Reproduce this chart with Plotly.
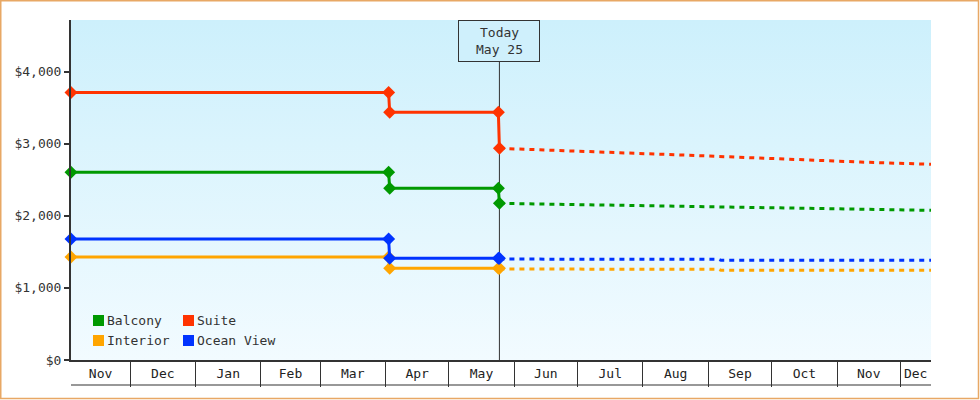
import base64
import pandas as pd
import plotly.graph_objects as go

# ---------------- data ----------------
series_names = ["Balcony", "Suite", "Interior", "Ocean View"]
series_colors = ["#009900", "#ff3300", "#ffa500", "#0033ff"]

solid_dates = ["2024-11-03", "2025-04-02 12:00", "2025-04-03", "2025-05-24 12:00", "2025-05-25"]
balcony_solid = [2603, 2603, 2381, 2381, 2173]
suite_solid = [3710, 3710, 3435, 3435, 2936]
interior_solid = [1428, 1428, 1272, 1272, 1272]
ocean_solid = [1678, 1678, 1410, 1410, 1410]

balcony_fc_dates = ["2025-05-25", "2025-06-08", "2025-07-08", "2025-08-05", "2025-09-04",
                    "2025-10-03", "2025-11-01", "2025-12-01", "2025-12-15 12:00"]
balcony_fc = [2173, 2166, 2150, 2133, 2118, 2104, 2090, 2076, 2076]
suite_fc_dates = ["2025-05-25", "2025-05-31", "2025-06-13", "2025-07-21", "2025-08-28",
                  "2025-10-05", "2025-11-12", "2025-12-15 12:00"]
suite_fc = [2936, 2930, 2922, 2875, 2834, 2788, 2746, 2714]
interior_fc_dates = ["2025-05-25", "2025-09-06", "2025-09-07", "2025-12-15 12:00"]
interior_fc = [1262, 1258, 1244, 1244]
ocean_fc_dates = ["2025-05-25", "2025-09-06", "2025-09-07", "2025-12-15 12:00"]
ocean_fc = [1400, 1396, 1383, 1383]

today = "2025-05-25"
today_lines = ["Today", "May 25"]
x_start = "2024-11-03"
x_end = "2025-12-15 12:00"
month_labels = ["Nov", "Dec", "Jan", "Feb", "Mar", "Apr", "May", "Jun", "Jul", "Aug",
                "Sep", "Oct", "Nov", "Dec"]
month_starts = ["2024-11-01", "2024-12-01", "2025-01-01", "2025-02-01", "2025-03-01",
                "2025-04-01", "2025-05-01", "2025-06-01", "2025-07-01", "2025-08-01",
                "2025-09-01", "2025-10-01", "2025-11-01", "2025-12-01", "2026-01-01"]
y_ticks = [0, 1000, 2000, 3000, 4000]
y_tick_labels = ["$0", "$1,000", "$2,000", "$3,000", "$4,000"]
y_max = 4716

# ---------------- layout constants ----------------
W, H = 980, 400
L, R, T, B = 71, 49, 20, 40
PW, PH = W - L - R, H - T - B
FONT = "DejaVu Sans Mono"
INK = "#333333"


def paper_x(px):
    return (px - L) / PW


def paper_y(py):
    return (H - B - py) / PH


solid = [balcony_solid, suite_solid, interior_solid, ocean_solid]
fc_dates = [balcony_fc_dates, suite_fc_dates, interior_fc_dates, ocean_fc_dates]
fc_vals = [balcony_fc, suite_fc, interior_fc, ocean_fc]

fig = go.Figure()
for name, col, fd, fv in zip(series_names, series_colors, fc_dates, fc_vals):
    fig.add_trace(go.Scatter(
        x=fd, y=fv, mode="lines", name=name + " forecast", showlegend=False,
        line=dict(color=col, width=3, dash="5px,5px"), hoverinfo="skip"))
for name, col, sv in zip(series_names, series_colors, solid):
    fig.add_trace(go.Scatter(
        x=solid_dates, y=sv, mode="lines+markers", name=name, showlegend=False,
        line=dict(color=col, width=3),
        marker=dict(symbol="diamond", size=10, color=col),
        cliponaxis=False))

# month bands: labels centred in visible part, separators at month starts
xs, xe = pd.Timestamp(x_start), pd.Timestamp(x_end)
ms = [pd.Timestamp(m) for m in month_starts]
mids = []
for a, b in zip(ms[:-1], ms[1:]):
    s, e = max(a, xs), min(b, xe)
    mids.append(s + (e - s) / 2)
seps = [m for m in ms if xs < m < xe]

shapes = []
# today line
shapes.append(dict(type="line", xref="x", yref="paper", x0=today, x1=today, y0=0, y1=1,
                   line=dict(color=INK, width=1), layer="below"))
# bottom line of month band
shapes.append(dict(type="line", xref="paper", yref="paper", x0=0, x1=1,
                   y0=paper_y(385), y1=paper_y(385), line=dict(color=INK, width=1.2),
                   layer="above"))
# outer border
shapes.append(dict(type="rect", xref="paper", yref="paper",
                   x0=paper_x(0.75), x1=paper_x(978.5), y0=paper_y(398.5), y1=paper_y(0.75),
                   line=dict(color="#e8a865", width=1.5), fillcolor="rgba(0,0,0,0)",
                   layer="above"))

# "Today" callout: box + two text lines
annotations = [dict(x=today, xref="x", y=1, yref="paper", yanchor="top", xanchor="center",
                    text=" ", showarrow=False,
                    font=dict(family=FONT, size=13, color=INK),
                    bgcolor="#cff0fc", bordercolor=INK, borderwidth=1, borderpad=3,
                    width=74, height=34)]
for line_text, py in zip(today_lines, [32.3, 49.8]):
    annotations.append(dict(x=today, xref="x", y=paper_y(py), yref="paper",
                            xanchor="center", yanchor="middle", showarrow=False,
                            text=line_text, font=dict(family=FONT, size=13, color=INK)))

# legend (two columns)
leg_pos = [(93, 320.5), (183, 320.5), (93, 340.5), (183, 340.5)]
for name, col, (sx, sy) in zip(series_names, series_colors, leg_pos):
    shapes.append(dict(type="rect", xref="paper", yref="paper",
                       x0=paper_x(sx), x1=paper_x(sx + 11),
                       y0=paper_y(sy + 5.5), y1=paper_y(sy - 5.5),
                       fillcolor=col, line=dict(width=0), layer="above"))
    annotations.append(dict(x=paper_x(sx + 12), xref="paper", y=paper_y(sy), yref="paper",
                            xanchor="left", yanchor="middle", showarrow=False, text=name,
                            font=dict(family=FONT, size=13, color=INK)))

svg = ('<svg xmlns="http://www.w3.org/2000/svg" width="100" height="100" viewBox="0 0 100 100" '
       'preserveAspectRatio="none"><defs><linearGradient id="g" x1="0" y1="0" x2="0" y2="1">'
       '<stop offset="0" stop-color="#cdf0fc"/><stop offset="1" stop-color="#f2fbff"/>'
       '</linearGradient></defs><rect width="100" height="100" fill="url(#g)"/></svg>')
bg_src = "data:image/svg+xml;base64," + base64.b64encode(svg.encode()).decode()

fig.update_layout(
    width=W, height=H, margin=dict(l=L, r=R, t=T, b=B, pad=0),
    paper_bgcolor="white", plot_bgcolor="rgba(0,0,0,0)",
    font=dict(family=FONT, size=13, color=INK),
    showlegend=False, hovermode=False,
    shapes=shapes, annotations=annotations,
    images=[dict(source=bg_src, xref="paper", yref="paper", x=0, y=1, sizex=1, sizey=1,
                 xanchor="left", yanchor="top", sizing="stretch", layer="below")],
    xaxis=dict(type="date", range=[x_start, x_end], showgrid=False, zeroline=False,
               showline=True, linecolor=INK, linewidth=2,
               tickmode="array", tickvals=mids, ticktext=month_labels, ticks="",
               tickfont=dict(family=FONT, size=13, color="#222"),
               minor=dict(tickmode="array", tickvals=seps, ticks="outside", ticklen=25,
                          tickwidth=1.2, tickcolor=INK, showgrid=False)),
    yaxis=dict(range=[0, y_max], showgrid=False, zeroline=False, showline=True,
               linecolor=INK, linewidth=2, tickmode="array", tickvals=y_ticks,
               ticktext=y_tick_labels, ticks="outside", ticklen=5, tickwidth=2,
               tickcolor=INK, tickfont=dict(family=FONT, size=13, color=INK)),
)

fig.write_html("out.html", config={"displayModeBar": False},
               post_script="document.body.style.margin='0';"
                           "document.body.style.overflow='hidden';")
